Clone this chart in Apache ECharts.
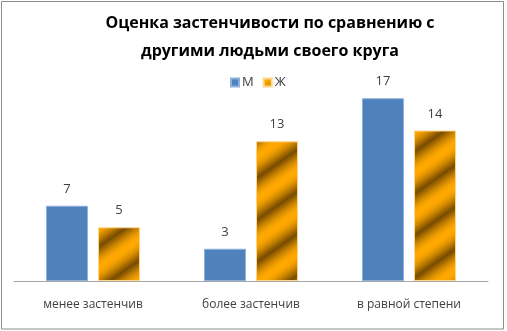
<!DOCTYPE html>
<html>
<head>
<meta charset="utf-8">
<script src="https://cdn.jsdelivr.net/npm/echarts@6/dist/echarts.min.js"></script>
<style>
  html, body { margin: 0; padding: 0; background: #fff; }
  #chart { width: 507px; height: 331px; }
</style>
</head>
<body>
<div id="chart"></div>
<script>
// Chart data
const titleText = 'Оценка застенчивости по сравнению с\nдругими людьми своего круга';
const categories = ['менее застенчив', 'более застенчив', 'в равной степени'];
const seriesNames = ['М', 'Ж'];
const valuesM = [7, 3, 17];
const valuesF = [5, 13, 14];

const FONT = 'Open Sans';

// Golden diagonal stripe fill for the second series
function makeStripeTile() {
  const w = 60, h = 42;
  const c = document.createElement('canvas');
  c.width = w; c.height = h;
  const ctx = c.getContext('2d');
  const img = ctx.createImageData(w, h);
  const light = [255, 168, 0];
  const dark = [120, 76, 0];
  for (let y = 0; y < h; y++) {
    for (let x = 0; x < w; x++) {
      const phase = y / h + x / w;
      let t = (1 + Math.cos(phase * 2 * Math.PI)) / 2; // 1 = light
      t = Math.pow(t, 0.55);
      const i = (y * w + x) * 4;
      for (let k = 0; k < 3; k++) {
        img.data[i + k] = Math.round(dark[k] + (light[k] - dark[k]) * t);
      }
      img.data[i + 3] = 255;
    }
  }
  ctx.putImageData(img, 0, 0);
  return c;
}
const stripe = { image: makeStripeTile(), repeat: 'repeat' };

const chart = echarts.init(document.getElementById('chart'), null, { renderer: 'canvas' });

const labelStyle = {
  show: true,
  position: 'top',
  distance: 10,
  fontFamily: FONT,
  fontSize: 13,
  color: '#404040'
};

chart.setOption({
  animation: false,
  title: {
    text: titleText,
    left: 265,
    textAlign: 'center',
    top: 4,
    textStyle: {
      fontFamily: FONT,
      fontSize: 16,
      fontWeight: 'bold',
      color: '#000',
      lineHeight: 28
    }
  },
  legend: {
    data: seriesNames,
    left: 225,
    top: 71,
    icon: 'rect',
    itemWidth: 8,
    itemHeight: 8,
    itemGap: 9,
    textStyle: { fontFamily: FONT, fontSize: 13, color: '#404040', padding: [0, 0, 0, -2] }
  },
  grid: { left: 14, right: 19, top: 66, bottom: 50, containLabel: false },
  xAxis: {
    type: 'category',
    data: categories,
    axisLine: { lineStyle: { color: '#a6a6a6', width: 1 } },
    axisTick: { show: false },
    axisLabel: {
      margin: 18,
      fontFamily: FONT,
      fontSize: 12,
      color: '#404040'
    }
  },
  yAxis: {
    type: 'value',
    min: 0,
    max: 20,
    interval: 5,
    show: false,
    splitLine: { show: false }
  },
  series: [
    {
      name: seriesNames[0],
      type: 'bar',
      data: valuesM,
      barWidth: 42,
      barGap: '24%',
      itemStyle: { color: '#4f81bd', borderColor: '#8eb0db', borderWidth: 1 },
      label: labelStyle
    },
    {
      name: seriesNames[1],
      type: 'bar',
      data: valuesF,
      barWidth: 42,
      itemStyle: { color: stripe, borderColor: '#ffd58a', borderWidth: 1 },
      label: labelStyle
    }
  ],
  graphic: [
    {
      type: 'rect',
      shape: { x: 1.5, y: 1.5, width: 502, height: 327.5 },
      style: { fill: 'none', stroke: '#8c8c8c', lineWidth: 1 },
      silent: true
    }
  ]
});
</script>
</body>
</html>
